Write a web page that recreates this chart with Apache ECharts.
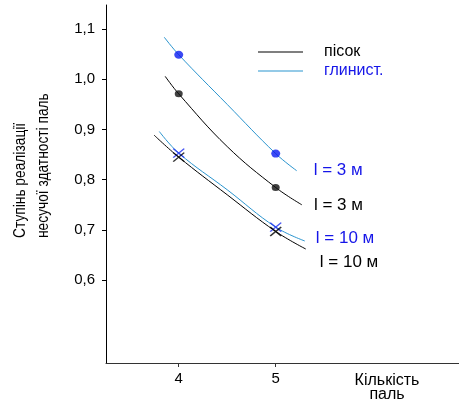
<!DOCTYPE html>
<html><head><meta charset="utf-8">
<script src="https://cdn.jsdelivr.net/npm/echarts@6/dist/echarts.min.js"></script>
<style>html,body{margin:0;padding:0;background:#fff}#c{width:459px;height:403px}</style>
</head><body><div id="c"></div>
<script>
// ---- data ----
const yTicks = [0.6, 0.7, 0.8, 0.9, 1.0, 1.1];
const xTicks = [4, 5];
const legendNames = ['пісок', 'глинист.'];
const curveLabels = ['l = 3 м', 'l = 3 м', 'l = 10 м', 'l = 10 м'];

// curves (x, y)
const clay3X = [3.85, 4, 4.5, 5, 5.216];
const clay3Y = [1.084, 1.049, 0.950, 0.852, 0.818];
const sand3X = [3.86, 4, 4.5, 5, 5.27];
const sand3Y = [1.006, 0.971, 0.866, 0.7845, 0.75];
const clay10X = [3.80, 4, 4.5, 5, 5.30];
const clay10Y = [0.896, 0.853, 0.780, 0.7056, 0.678];
const sand10X = [3.745, 4, 4.5, 5, 5.31];
const sand10Y = [0.889, 0.845, 0.770, 0.697, 0.662];

// measured points (markers)
const markerX = [4, 5];
const clay3M = [1.049, 0.852];
const sand3M = [0.971, 0.7845];
const clay10M = [0.853, 0.7056];
const sand10M = [0.845, 0.697];

// ---- styles ----
const FONT = '"Liberation Sans", Arial, sans-serif';
const BLACK = '#000000';
const CYAN = '#2b95cf';
const BLUE = '#1515e8';
const CROSS = 'path://M0,0L10,10M10,0L0,10';

const zip = (xs, ys) => xs.map((x, i) => [x, ys[i]]);

// shift: 0 = centred on end point, 'down' = one line below, 'up' = slightly above
function lineSeries(name, xs, ys, color, label, labelColor, dist, shift) {
  let fmt = label, lh = 20;
  if (shift === 'down') { fmt = '\n' + label; lh = 26; }
  if (shift === 'up') { fmt = label + '\n'; lh = 6; }
  return {
    type: 'line', name, data: zip(xs, ys), symbol: 'none', smooth: 0.4,
    lineStyle: { color, width: 1 }, itemStyle: { color },
    endLabel: { show: true, formatter: fmt, color: labelColor, fontSize: 17, lineHeight: lh,
      fontFamily: FONT, distance: dist },
    z: 2
  };
}
function markerSeries(name, ys, color, symbol, size, cross) {
  return {
    type: 'scatter', name, data: zip(markerX, ys), symbol, symbolSize: size,
    itemStyle: cross ? { color: 'none', borderColor: color, borderWidth: 1.5 } : { color },
    z: 3
  };
}

const chart = echarts.init(document.getElementById('c'), null, { renderer: 'canvas' });
chart.setOption({
  animation: false,
  backgroundColor: '#fff',
  textStyle: { fontFamily: FONT },
  grid: { left: 106, right: 0, top: 5, bottom: 40 },
  xAxis: {
    type: 'value', min: 3.25, max: 6.89,
    axisLine: { lineStyle: { color: '#333', width: 1 } },
    axisTick: { show: true, length: 4, customValues: xTicks, lineStyle: { color: '#333' } },
    axisLabel: { customValues: xTicks, color: '#000', fontSize: 15, margin: 8, fontFamily: FONT },
    splitLine: { show: false }
  },
  yAxis: {
    type: 'value', min: 0.435, max: 1.148,
    axisLine: { show: true, lineStyle: { color: '#000', width: 1 } },
    axisTick: { show: true, length: 4, customValues: yTicks, lineStyle: { color: '#000' } },
    axisLabel: { customValues: yTicks, color: '#000', fontSize: 15, margin: 11, fontFamily: FONT,
      formatter: v => v.toFixed(1).replace('.', ',') },
    splitLine: { show: false }
  },
  legend: {
    orient: 'vertical', left: 253, top: 39, itemWidth: 45, itemHeight: 1, itemGap: 3,
    icon: 'rect', selectedMode: false,
    textStyle: { fontSize: 16, lineHeight: 16, fontFamily: FONT, padding: [0, 0, 0, 16] },
    data: [
      { name: legendNames[0], itemStyle: { color: BLACK }, textStyle: { color: BLACK } },
      { name: legendNames[1], itemStyle: { color: CYAN }, textStyle: { color: BLUE } }
    ]
  },
  graphic: [
    { type: 'text', x: 32, y: 238, rotation: Math.PI / 2, scaleX: 0.86,
      style: { text: 'Ступінь реалізації\nнесучої здатності паль', fontSize: 16, fontFamily: FONT,
        fill: '#000', align: 'left', verticalAlign: 'middle', lineHeight: 23 } },
    { type: 'text', x: 387, y: 374,
      style: { text: 'Кількість\nпаль', fontSize: 16, fontFamily: FONT, fill: '#000',
        align: 'center', verticalAlign: 'top', lineHeight: 14 } }
  ],
  series: [
    lineSeries(legendNames[1], clay3X, clay3Y, CYAN, curveLabels[0], BLUE, 17, 0),
    lineSeries(legendNames[0], sand3X, sand3Y, BLACK, curveLabels[1], BLACK, 12, 0),
    lineSeries(legendNames[1], clay10X, clay10Y, CYAN, curveLabels[2], BLUE, 11, 'up'),
    lineSeries(legendNames[0], sand10X, sand10Y, BLACK, curveLabels[3], BLACK, 14, 'down'),
    markerSeries(legendNames[1], clay3M, '#0a1cf0', 'circle', [9, 8], false),
    markerSeries(legendNames[0], sand3M, '#111', 'circle', [8, 7], false),
    markerSeries(legendNames[1], clay10M, '#1a2cf0', CROSS, [11, 9], true),
    markerSeries(legendNames[0], sand10M, '#000', CROSS, [11, 9], true)
  ]
});
</script></body></html>
